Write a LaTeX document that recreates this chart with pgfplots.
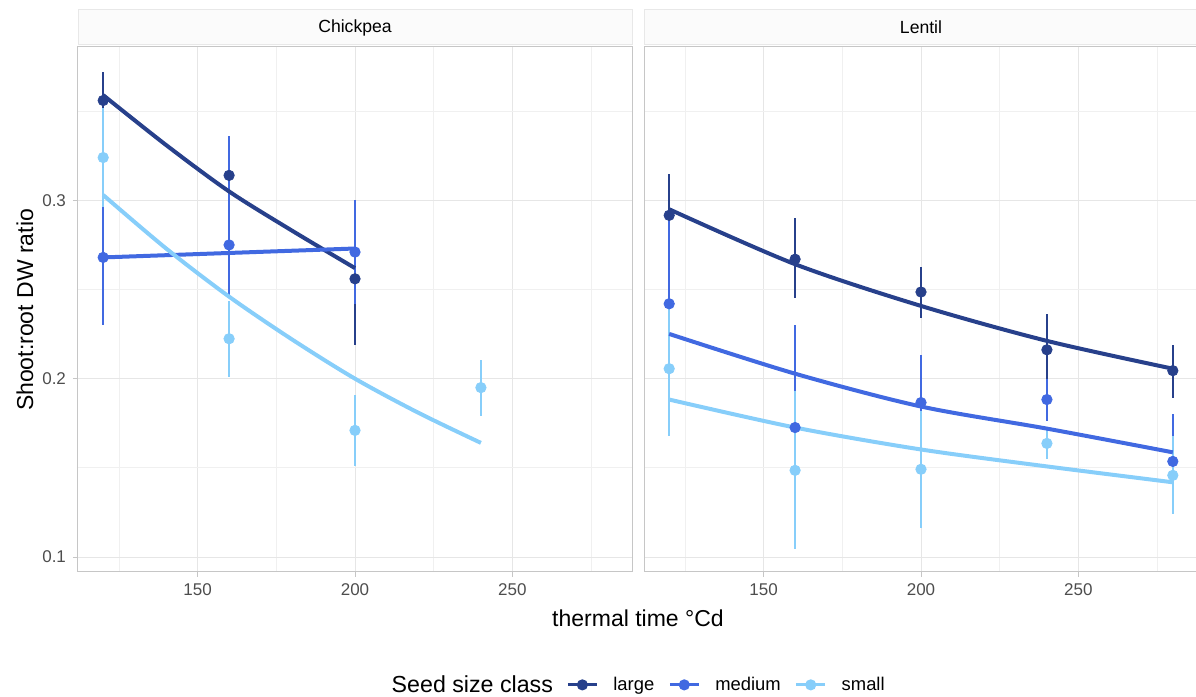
\documentclass[border=0pt]{standalone}
\usepackage{fontspec}
\setmainfont{Liberation Sans}
\usepackage{pgfplots}
\pgfplotsset{compat=1.18}
\usepackage{pgfplotstable}

\definecolor{largec}{HTML}{27408B}
\definecolor{mediumc}{HTML}{4169E1}
\definecolor{smallc}{HTML}{87CEFA}
\definecolor{gridmajor}{HTML}{E6E6E6}
\definecolor{gridminor}{HTML}{F0F0F0}
\definecolor{panelborder}{HTML}{C6C6C6}
\definecolor{ticktext}{HTML}{4D4D4D}
\definecolor{stripfill}{HTML}{FBFBFB}
\definecolor{stripborder}{HTML}{E8E8E8}

% x, mean, lower, upper
\pgfplotstableread{
x y lo hi
120 0.356 0.340 0.372
160 0.314 0.300 0.328
200 0.256 0.219 0.293
}\cpLarge
\pgfplotstableread{
x y lo hi
120 0.268 0.230 0.306
160 0.275 0.247 0.336
200 0.271 0.242 0.300
}\cpMedium
\pgfplotstableread{
x y lo hi
120 0.324 0.296 0.352
160 0.2224 0.2011 0.2437
200 0.171 0.151 0.191
240 0.195 0.1793 0.2106
}\cpSmall
\pgfplotstableread{
x y lo hi
120 0.2916 0.268 0.315
160 0.267 0.245 0.290
200 0.2486 0.234 0.2626
240 0.2162 0.196 0.2363
280 0.2045 0.1894 0.219
}\leLarge
\pgfplotstableread{
x y lo hi
120 0.242 0.195 0.289
160 0.1726 0.115 0.230
200 0.1866 0.160 0.2134
240 0.1883 0.1765 0.200
280 0.1536 0.127 0.180
}\leMedium
\pgfplotstableread{
x y lo hi
120 0.2056 0.1676 0.2436
160 0.1486 0.1045 0.193
200 0.1492 0.1162 0.182
240 0.1637 0.1547 0.1727
280 0.1458 0.124 0.1676
}\leSmall

\pgfplotsset{
  facet/.style={scale only axis, width=277pt, height=262.5pt,
    xmin=112, xmax=288, ymin=0.0916, ymax=0.386,
    xtick={150,200,250}, minor xtick={125,175,225,275},
    ytick={0.1,0.2,0.3}, minor ytick={0.15,0.25,0.35},
    grid=both, major grid style={gridmajor, line width=0.5pt},
    minor grid style={gridminor, line width=0.4pt},
    axis line style={panelborder, line width=0.5pt},
    tick align=outside, tick pos=left, major tick length=2.5pt, minor tick length=0pt,
    tick style={panelborder, line width=0.5pt},
    ticklabel style={font=\fontsize{8.5}{10}\selectfont, text=ticktext},
    /pgf/number format/assume math mode=true,
    yticklabel style={/pgf/number format/fixed, /pgf/number format/precision=1},
    xticklabel style={/pgf/number format/set thousands separator={}},
    anchor=south west},
  pts/.style={only marks, mark=*, mark size=2.6pt, color=#1,
    error bars/.cd, y dir=both, y explicit, error mark=none,
    error bar style={line width=1pt, color=#1}},
  fit/.style={no marks, smooth, line width=2pt, color=#1},
}

\begin{document}
\begin{tikzpicture}
\useasboundingbox (0,0) rectangle (598pt,348.5pt);

\begin{axis}[facet, name=cp, at={(39pt,62.5pt)},
  legend style={at={(axis description cs:0.870,-0.215)}, anchor=west, draw=none, fill=none,
    legend columns=-1, font=\fontsize{9.2}{10}\selectfont,
    /tikz/every odd column/.append style={column sep=5.5pt},
    /tikz/every even column/.append style={column sep=5pt}},
  legend image code/.code={\draw[mark repeat=2, mark phase=2, #1] plot coordinates {(0pt,0pt) (7.25pt,0pt) (14.5pt,0pt)};},
  legend cell align=left]
\addlegendimage{color=largec, line width=1.5pt, mark=*, mark size=2pt}
\addlegendentry{large}
\addlegendimage{color=mediumc, line width=1.5pt, mark=*, mark size=2pt}
\addlegendentry{medium}
\addlegendimage{color=smallc, line width=1.5pt, mark=*, mark size=2pt}
\addlegendentry{small}
\addplot[pts=largec] table[x=x, y=y, y error plus expr=\thisrow{hi}-\thisrow{y}, y error minus expr=\thisrow{y}-\thisrow{lo}] {\cpLarge};
\addplot[pts=mediumc] table[x=x, y=y, y error plus expr=\thisrow{hi}-\thisrow{y}, y error minus expr=\thisrow{y}-\thisrow{lo}] {\cpMedium};
\addplot[pts=smallc] table[x=x, y=y, y error plus expr=\thisrow{hi}-\thisrow{y}, y error minus expr=\thisrow{y}-\thisrow{lo}] {\cpSmall};
\addplot[fit=largec] coordinates {(120,0.359) (140,0.331) (160,0.305) (180,0.283) (200,0.262)};
\addplot[fit=mediumc] coordinates {(120,0.268) (200,0.273)};
\addplot[fit=smallc] coordinates {(120,0.303) (140,0.273) (160,0.246) (180,0.222) (200,0.200) (220,0.181) (240,0.164)};
\end{axis}

\begin{axis}[facet, name=le, at={(322pt,62.5pt)}, yticklabels={}, y tick style={draw=none}]
\addplot[pts=largec] table[x=x, y=y, y error plus expr=\thisrow{hi}-\thisrow{y}, y error minus expr=\thisrow{y}-\thisrow{lo}] {\leLarge};
\addplot[pts=mediumc] table[x=x, y=y, y error plus expr=\thisrow{hi}-\thisrow{y}, y error minus expr=\thisrow{y}-\thisrow{lo}] {\leMedium};
\addplot[pts=smallc] table[x=x, y=y, y error plus expr=\thisrow{hi}-\thisrow{y}, y error minus expr=\thisrow{y}-\thisrow{lo}] {\leSmall};
\addplot[fit=largec] coordinates {(120,0.295) (160,0.2642) (200,0.2408) (240,0.2212) (280,0.2056)};
\addplot[fit=mediumc] coordinates {(120,0.2251) (160,0.2028) (200,0.1844) (240,0.172) (280,0.1587)};
\addplot[fit=smallc] coordinates {(120,0.1883) (160,0.1726) (200,0.1603) (240,0.1508) (280,0.1419)};
\end{axis}

% facet strips
\foreach \ax/\lab in {cp/Chickpea, le/Lentil} {
  \draw[fill=stripfill, draw=stripborder, line width=0.5pt]
    ([yshift=1pt]\ax.north west) rectangle ([yshift=18.5pt]\ax.north east);
  \node[font=\fontsize{8.8}{10}\selectfont, text=black, anchor=center]
    at ([yshift=9.75pt]\ax.north) {\lab};
}

\node[font=\fontsize{11.5}{13}\selectfont, rotate=90] at (12.5pt,193.5pt) {Shoot:root DW ratio};
\node[font=\fontsize{11.5}{13}\selectfont] at (319pt,39.5pt) {thermal time °Cd};
\node[font=\fontsize{11.6}{13}\selectfont, anchor=east] at (280pt,6.5pt) {Seed size class};
\end{tikzpicture}
\end{document}
